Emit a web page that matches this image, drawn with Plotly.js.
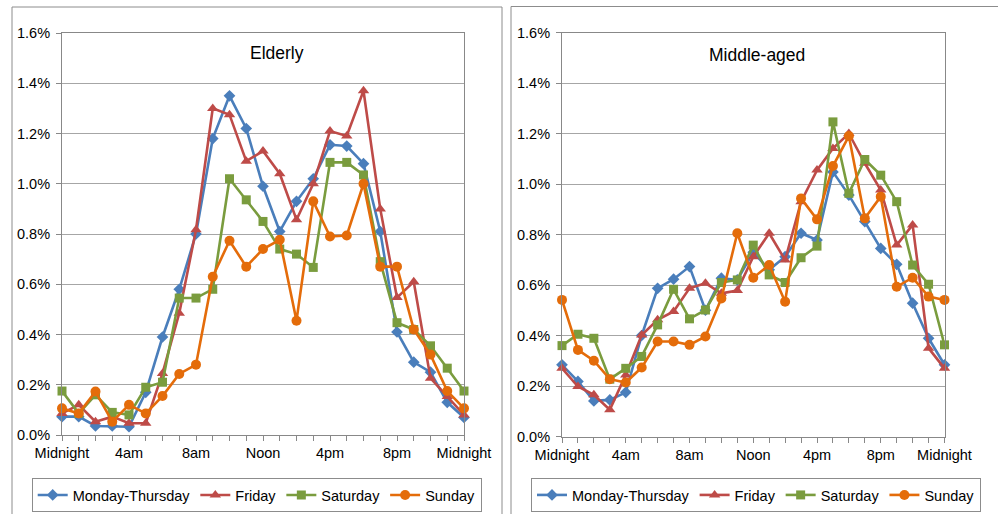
<!DOCTYPE html>
<html>
<head>
<meta charset="utf-8">
<script src="https://cdn.plot.ly/plotly-3.0.1.min.js"></script>
<style>html,body{margin:0;padding:0;background:#fff;}#chart{width:998px;height:514px;}</style>
</head>
<body>
<div id="chart"></div>
<script>
// Hours of the day (0 = midnight ... 24 = midnight)
const hours = [0,1,2,3,4,5,6,7,8,9,10,11,12,13,14,15,16,17,18,19,20,21,22,23,24];
const tickHours = [0,4,8,12,16,20,24];
const tickLabels = ["Midnight","4am","8am","Noon","4pm","8pm","Midnight"];
const seriesNames = ["Monday-Thursday","Friday","Saturday","Sunday"];
const panelTitles = ["Elderly","Middle-aged"];

// Elderly (% of trips by hour)
const elderlyMonThu = [0.073,0.073,0.036,0.036,0.033,0.17,0.39,0.58,0.80,1.18,1.35,1.22,0.99,0.81,0.93,1.02,1.155,1.15,1.08,0.81,0.41,0.29,0.25,0.13,0.07];
const elderlyFri    = [0.086,0.12,0.053,0.073,0.047,0.047,0.245,0.485,0.817,1.30,1.275,1.09,1.13,1.04,0.857,1.0,1.21,1.19,1.37,0.90,0.547,0.61,0.226,0.153,0.08];
const elderlySat    = [0.175,0.086,0.16,0.09,0.08,0.19,0.21,0.545,0.545,0.58,1.02,0.936,0.85,0.74,0.72,0.667,1.085,1.085,1.035,0.69,0.447,0.42,0.355,0.266,0.175];
const elderlySun    = [0.106,0.086,0.173,0.053,0.12,0.086,0.155,0.243,0.28,0.63,0.773,0.67,0.74,0.777,0.455,0.93,0.79,0.794,1.0,0.67,0.67,0.42,0.32,0.175,0.106];

// Middle-aged (% of trips by hour)
const middleMonThu = [0.284,0.218,0.141,0.145,0.175,0.40,0.587,0.623,0.673,0.50,0.627,0.62,0.73,0.66,0.712,0.805,0.778,1.048,0.956,0.851,0.745,0.682,0.528,0.389,0.284];
const middleFri    = [0.27,0.198,0.165,0.106,0.244,0.402,0.462,0.495,0.587,0.607,0.567,0.578,0.712,0.805,0.699,0.93,1.055,1.141,1.2,1.082,0.976,0.758,0.838,0.35,0.27];
const middleSat    = [0.36,0.405,0.389,0.227,0.27,0.317,0.442,0.583,0.466,0.501,0.61,0.62,0.758,0.64,0.61,0.708,0.754,1.246,0.963,1.097,1.035,0.93,0.679,0.603,0.363];
const middleSun    = [0.541,0.343,0.30,0.227,0.214,0.273,0.376,0.376,0.363,0.396,0.547,0.805,0.629,0.679,0.534,0.943,0.86,1.071,1.19,0.864,0.95,0.593,0.629,0.554,0.541];

const colors = ["#4A7EBB","#BE4B48","#7A9C3E","#E46C0A"];
const symbols = ["diamond","triangle-up","square","circle"];
const msizes = [9,10,9,10];

const W = 998, H = 514;
const px = v => v / W;
const py = v => 1 - v / H;

function mk(panelData, xa, ya, leg) {
  return panelData.map((ys, i) => ({
    type: "scatter", mode: "lines+markers",
    x: hours, y: ys, name: seriesNames[i],
    xaxis: xa, yaxis: ya, legend: leg,
    line: {color: colors[i], width: 2.6},
    marker: {color: colors[i], symbol: symbols[i], size: msizes[i], line: {width: 0}},
    cliponaxis: false
  }));
}

const traces = [
  ...mk([elderlyMonThu, elderlyFri, elderlySat, elderlySun], "x", "y", "legend"),
  ...mk([middleMonThu, middleFri, middleSat, middleSun], "x2", "y2", "legend2")
];

const font = {family: "Liberation Sans, Arial, sans-serif", size: 14.5, color: "#000"};
const axisColor = "#888888";
const gridColor = "#A6A6A6";

function xax(domain, anchor) {
  return {
    domain: domain, anchor: anchor, range: [0, 24], showgrid: false, zeroline: false,
    showline: true, mirror: true, linecolor: axisColor, linewidth: 1,
    tickmode: "array", tickvals: tickHours, ticktext: tickLabels,
    ticks: "outside", ticklen: 5, tickcolor: axisColor, tickfont: font,
    minor: {dtick: 1, tick0: 0, ticks: "outside", ticklen: 5, tickcolor: axisColor, showgrid: false},
    fixedrange: true
  };
}
function yax(domain, anchor) {
  return {
    domain: domain, anchor: anchor, range: [0, 1.6], dtick: 0.2, tick0: 0,
    tickformat: ".1f", ticksuffix: "%", showgrid: true, gridcolor: gridColor, gridwidth: 1,
    zeroline: false, showline: true, mirror: true, linecolor: axisColor, linewidth: 1,
    ticks: "outside", ticklen: 5, tickcolor: axisColor, tickfont: font, fixedrange: true,
    ticklabelstandoff: 3
  };
}

const legendBase = {
  orientation: "h", xanchor: "center", yanchor: "middle", y: py(495),
  bordercolor: "#8c8c8c", borderwidth: 1, bgcolor: "#fff", font: font,
  traceorder: "normal", itemclick: false, itemdoubleclick: false
};

const layout = {
  width: W, height: H, margin: {l: 0, r: 0, t: 0, b: 0},
  paper_bgcolor: "#fff", plot_bgcolor: "#fff", font: font, showlegend: true,
  xaxis: xax([px(62), px(464)], "y"),
  yaxis: yax([py(435), py(33)], "x"),
  xaxis2: xax([px(562), px(944.5)], "y2"),
  yaxis2: yax([py(436.5), py(32.5)], "x2"),
  legend: Object.assign({}, legendBase, {x: px(256.7)}),
  legend2: Object.assign({}, legendBase, {x: px(756)}),
  annotations: [
    {text: panelTitles[0], xref: "paper", yref: "paper", x: px(277), y: py(53), showarrow: false, font: {family: font.family, size: 17.5, color: "#000"}, xanchor: "center", yanchor: "middle"},
    {text: panelTitles[1], xref: "paper", yref: "paper", x: px(757), y: py(55), showarrow: false, font: {family: font.family, size: 17.5, color: "#000"}, xanchor: "center", yanchor: "middle"}
  ],
  shapes: [
    {type: "rect", xref: "paper", yref: "paper", x0: px(12), x1: px(502), y0: -0.1, y1: py(7), line: {color: "#8c8c8c", width: 1}, layer: "below"},
    {type: "rect", xref: "paper", yref: "paper", x0: px(511), x1: 1.1, y0: -0.1, y1: py(6.5), line: {color: "#8c8c8c", width: 1}, layer: "below"}
  ]
};

Plotly.newPlot("chart", traces, layout, {staticPlot: true, displayModeBar: false});
</script>
</body>
</html>
